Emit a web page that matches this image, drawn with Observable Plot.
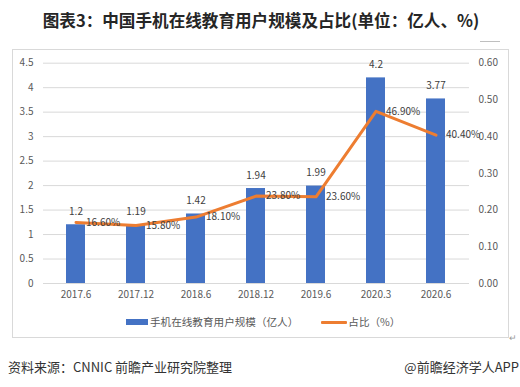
<!DOCTYPE html>
<html>
<head>
<meta charset="utf-8">
<script src="https://cdn.jsdelivr.net/npm/d3@7"></script>
<script src="https://cdn.jsdelivr.net/npm/@observablehq/plot@0.6"></script>
<style>
  body { margin:0; background:#fff; }
  #wrap { position:relative; width:520px; height:387px; overflow:hidden; background:#fff; font-family:"Noto Sans CJK SC", sans-serif; }
  #title { position:absolute; top:10px; left:0; width:522px; text-align:center; font-weight:bold; font-size:16.6px; line-height:20px; color:#262626; }
  #frame { position:absolute; left:12px; top:49px; width:497px; height:289px; border:1px solid #d9d9d9; box-sizing:border-box; }
  #chart { position:absolute; left:0; top:0; }
  #legend { position:absolute; left:126px; top:314px; height:16px; display:flex; align-items:center; font-size:10.6px; line-height:16px; color:#595959; white-space:nowrap; }
  .sw-bar { width:22px; height:6px; background:#4472C4; margin-right:2px; }
  .sw-line { width:26px; height:3px; background:#ED7D31; margin-left:23px; margin-right:1px; border-radius:1px; }
  .foot { position:absolute; top:358px; font-size:13px; line-height:18px; color:#333; white-space:nowrap; }
</style>
</head>
<body>
<div id="wrap">
  <div id="title">图表3：中国手机在线教育用户规模及占比(单位：亿人、%)</div>
  <div style="position:absolute;left:480px;top:41px;width:20px;height:1px;background:#bfbfbf"></div>
  <div id="frame"></div>
  <div id="chart"></div>
  <div id="legend"><span class="sw-bar"></span><span>手机在线教育用户规模（亿人）</span><span class="sw-line"></span><span>占比（%）</span></div>
  <div style="position:absolute;left:509px;top:331px;font-size:9px;color:#999">↵</div>
  <div class="foot" style="left:8px">资料来源：CNNIC 前瞻产业研究院整理</div>
  <div class="foot" style="right:1px">@前瞻经济学人APP</div>
</div>
<script>
const periods = ["2017.6","2017.12","2018.6","2018.12","2019.6","2020.3","2020.6"];
const users = [1.2, 1.19, 1.42, 1.94, 1.99, 4.2, 3.77];
const sharePct = [16.6, 15.8, 18.1, 23.8, 23.6, 46.9, 40.4];
const leftTicks = [0, 0.5, 1, 1.5, 2, 2.5, 3, 3.5, 4, 4.5];
const leftTickLabels = ["0","0.5","1","1.5","2","2.5","3","3.5","4","4.5"];
const rightTicks = [0, 0.1, 0.2, 0.3, 0.4, 0.5, 0.6];
const rightTickLabels = ["0.00","0.10","0.20","0.30","0.40","0.50","0.60"];
const userMax = 4.5, shareMax = 0.6;
const k = userMax / shareMax;

const data = periods.map((p, i) => ({period: p, users: users[i], share: sharePct[i] / 100, pct: sharePct[i]}));

const chart = Plot.plot({
  width: 520, height: 310,
  marginTop: 62.7, marginBottom: 27, marginLeft: 43, marginRight: 51,
  style: {background: "transparent", fontFamily: "'Noto Sans CJK SC', sans-serif", fontSize: "10px", overflow: "visible"},
  x: {type: "band", domain: periods, paddingInner: 0.68, paddingOuter: 0.34, axis: null},
  y: {domain: [0, userMax], axis: null},
  marks: [
    Plot.gridY(leftTicks, {stroke: "#d9d9d9", strokeOpacity: 1}),
    Plot.axisY({ticks: leftTicks, anchor: "left", tickSize: 0, tickPadding: 10, fill: "#595959", label: null,
      tickFormat: d => leftTickLabels[leftTicks.indexOf(d)]}),
    Plot.axisY({ticks: rightTicks.map(t => t * k), anchor: "right", tickSize: 0, tickPadding: 9, fill: "#595959", label: null,
      tickFormat: d => rightTickLabels[Math.round(d / k * 10)]}),
    Plot.axisX({tickSize: 0, tickPadding: 7, fill: "#595959", label: null}),
    Plot.barY(data, {x: "period", y: "users", fill: "#4472C4"}),
    Plot.line(data, {x: "period", y: d => d.share * k, stroke: "#ED7D31", strokeWidth: 3, strokeLinejoin: "round", strokeLinecap: "round"}),
    Plot.text(data, {x: "period", y: "users", text: d => String(d.users), dy: -13, fill: "#404040", fontSize: 10}),
    Plot.text(data, {x: "period", y: d => d.share * k, text: d => d.pct.toFixed(2) + "%", dx: 10, textAnchor: "start", fill: "#404040", fontSize: 10})
  ]
});
document.getElementById("chart").appendChild(chart);
</script>
</body>
</html>
